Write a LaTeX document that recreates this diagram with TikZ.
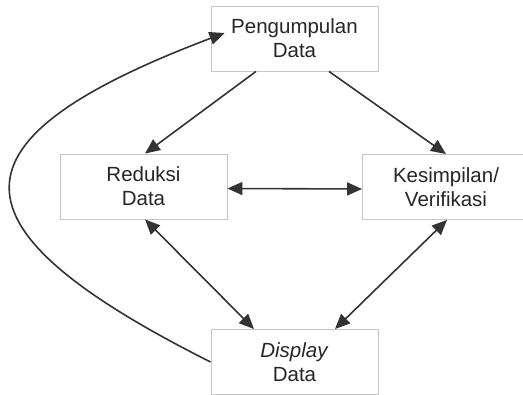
\documentclass[tikz,border=0pt]{standalone}
\usepackage{fontspec}
\setmainfont{Liberation Sans}
\usetikzlibrary{arrows.meta,positioning}

\begin{document}
\begin{tikzpicture}[
  x=1pt, y=-1pt,
  box/.style={rectangle, draw=gray!45, line width=0.9pt, align=center, minimum width=167pt, minimum height=65pt, font=\fontsize{20.5}{24}\selectfont, text=black!85},
  arr/.style={-{Triangle[length=15pt,width=13pt]}, line width=1.6pt, draw=black!80},
  biarr/.style={{Triangle[length=15pt,width=13pt]}-{Triangle[length=15pt,width=13pt]}, line width=1.6pt, draw=black!80}
]
\useasboundingbox (0,0) rectangle (523,395);
\node[box] (collect) at (294.5,38.5) {Pengumpulan\\Data};
\node[box] (reduce) at (143.5,186.5) {Reduksi\\Data};
\node[box] (conclude) at (446,187) {Kesimpilan/\\Verifikasi};
\node[box] (show) at (294.5,362) {\textit{Display}\\Data};
\draw[arr] ([xshift=-38.5pt]collect.south) -- ([xshift=1.5pt]reduce.north);
\draw[arr] ([xshift=34.5pt]collect.south) -- (conclude.north);
\draw[biarr] ([yshift=-2pt]reduce.east) -- ([yshift=-2pt]conclude.west);
\draw[biarr] ([xshift=1.5pt]reduce.south) -- ([xshift=-40.5pt]show.north);
\draw[biarr] ([xshift=1pt]conclude.south) -- ([xshift=40.5pt]show.north);
\draw[arr] (show.west) .. controls (-58,227) and (-58,140) .. ([xshift=14pt,yshift=5.5pt]collect.west);
\end{tikzpicture}
\end{document}
